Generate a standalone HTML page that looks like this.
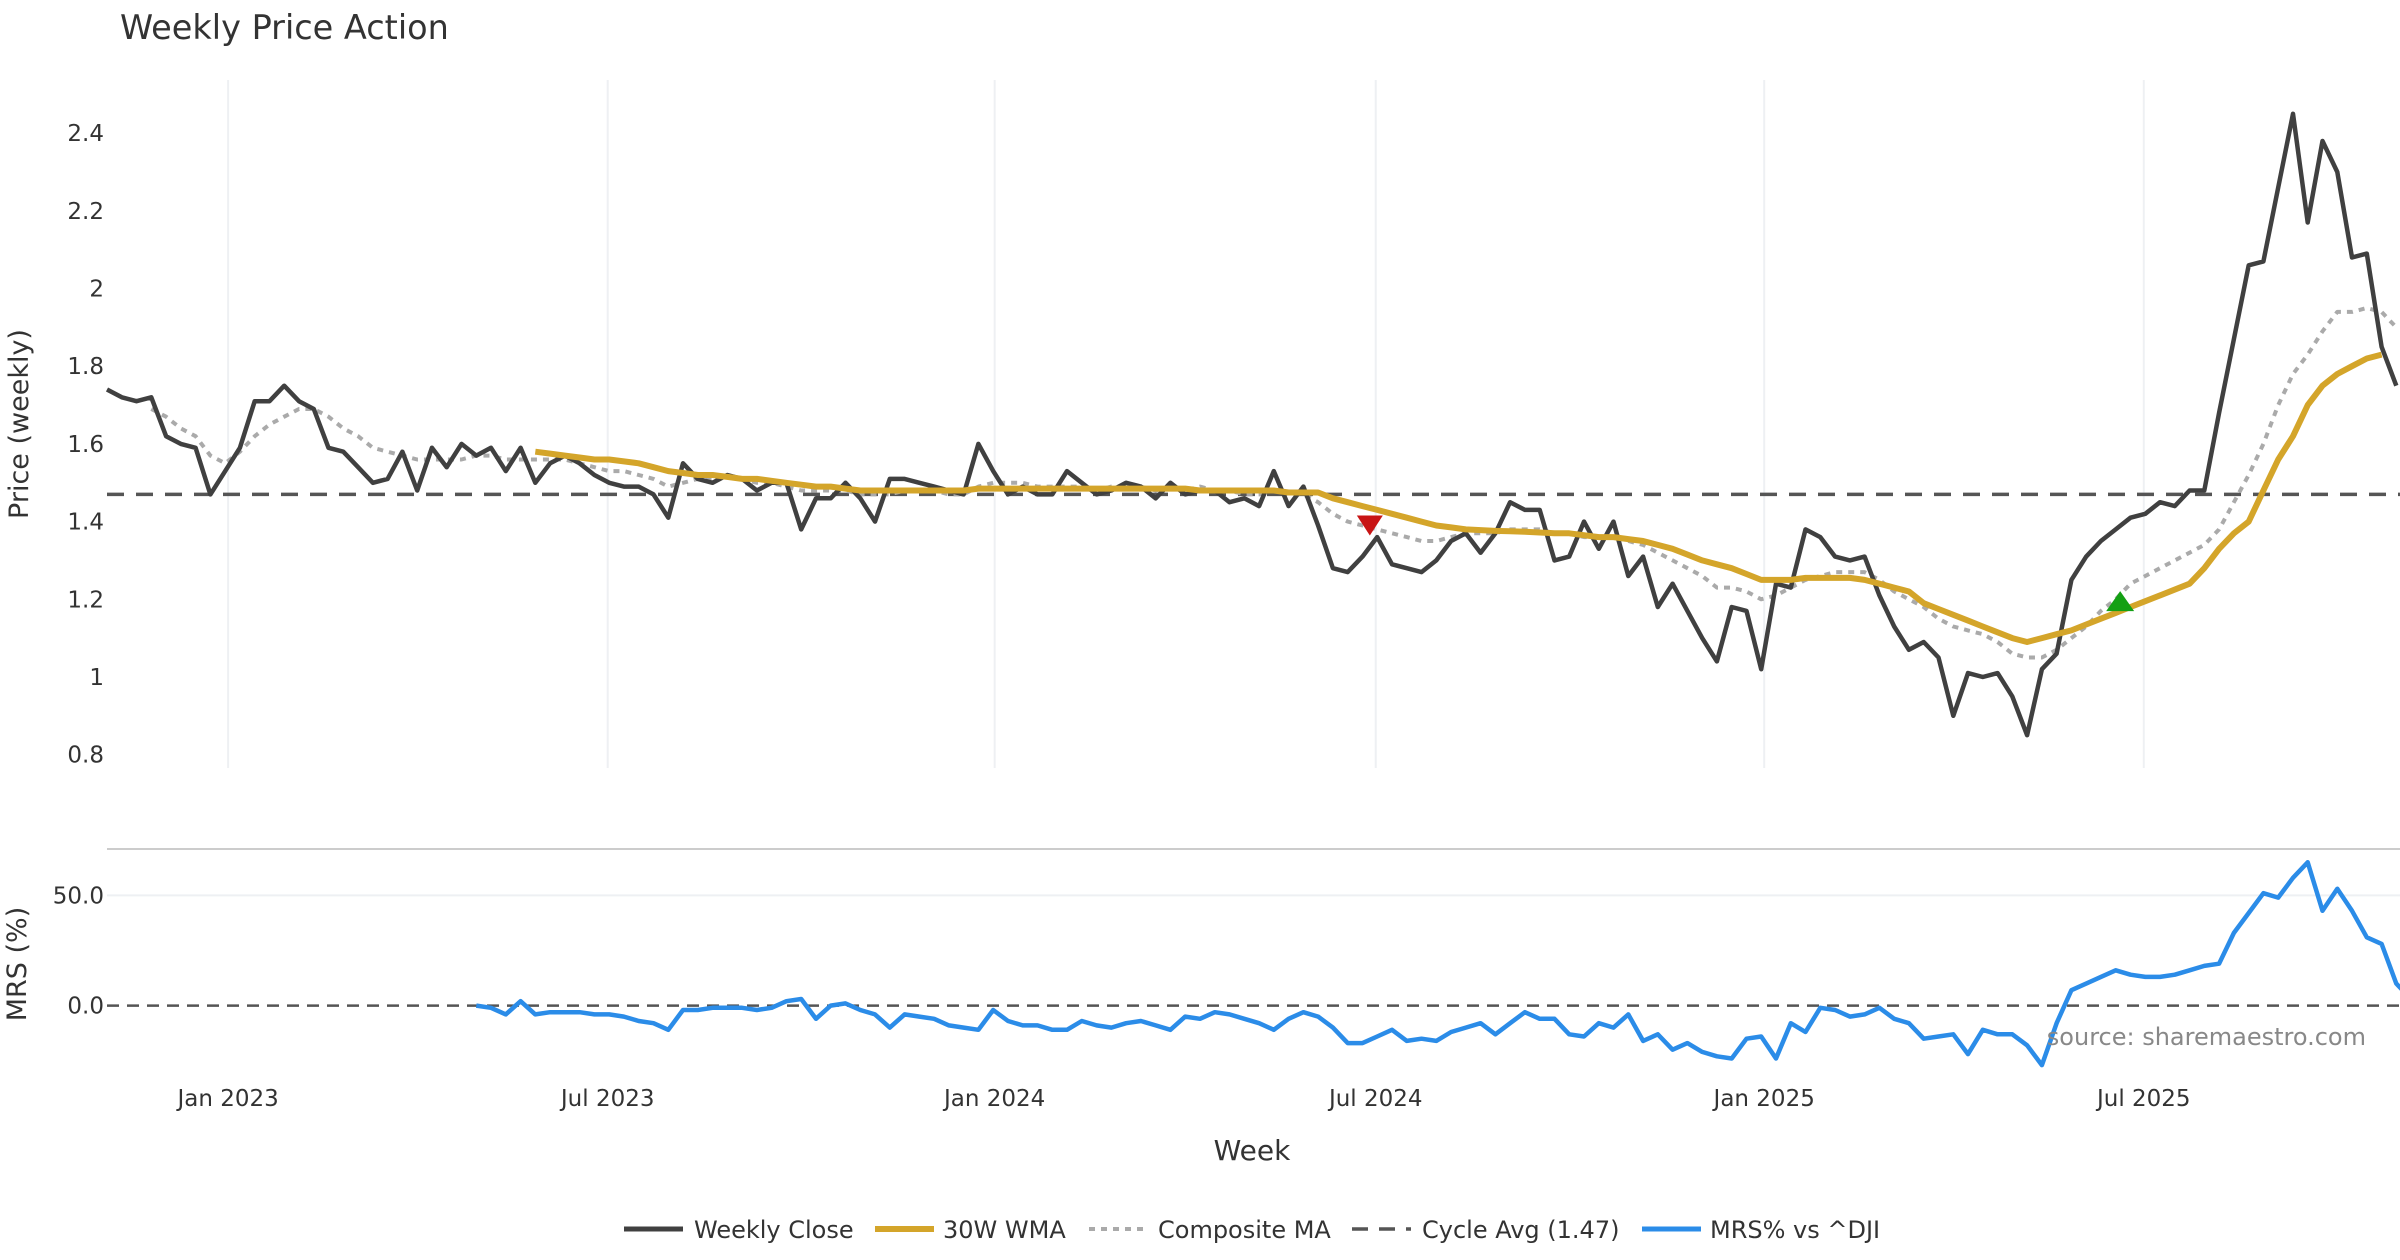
<!DOCTYPE html>
<html><head><meta charset="utf-8"><style>
html,body{margin:0;padding:0;background:#fff;width:2400px;height:1260px;overflow:hidden}
svg{display:block;font-family:"DejaVu Sans","Liberation Sans",sans-serif}
</style></head><body>
<svg id="chart" width="2400" height="1260" viewBox="0 0 2400 1260">
<text x="120" y="39" font-size="33.5" fill="#333">Weekly Price Action</text>
<g id="grid"></g>
<g id="series"></g>
<g id="axes"></g>
<text transform="translate(28,424) rotate(-90)" text-anchor="middle" font-size="27" fill="#333">Price (weekly)</text>
<text transform="translate(26,964) rotate(-90)" text-anchor="middle" font-size="27" fill="#333">MRS (%)</text>
<text x="1252" y="1160" text-anchor="middle" font-size="28" fill="#333">Week</text>
<text x="2366" y="1045" text-anchor="end" font-size="24" fill="#888">source: sharemaestro.com</text>
<g id="legend">
<g><line x1="624" y1="1229" x2="683" y2="1229" stroke="#404040" stroke-width="5"/><text x="694" y="1238" font-size="24" fill="#333">Weekly Close</text></g>
<g><line x1="875" y1="1229" x2="934" y2="1229" stroke="#d4a52a" stroke-width="6"/><text x="943" y="1238" font-size="24" fill="#333">30W WMA</text></g>
<g><line x1="1089" y1="1229" x2="1148" y2="1229" stroke="#aaa" stroke-width="4" stroke-dasharray="6,6"/><text x="1158" y="1238" font-size="24" fill="#333">Composite MA</text></g>
<g><line x1="1352" y1="1229" x2="1411" y2="1229" stroke="#555" stroke-width="3.5" stroke-dasharray="16,11"/><text x="1422" y="1238" font-size="24" fill="#333">Cycle Avg (1.47)</text></g>
<g><line x1="1642" y1="1229" x2="1701" y2="1229" stroke="#2b8ce8" stroke-width="5"/><text x="1710" y="1238" font-size="24" fill="#333">MRS% vs ^DJI</text></g>
</g>
</svg>
<script>
const closeVals=[1.74,1.72,1.71,1.72,1.62,1.60,1.59,1.47,1.53,1.59,1.71,1.71,1.75,1.71,1.69,1.59,1.58,1.54,1.50,1.51,1.58,1.48,1.59,1.54,1.60,1.57,1.59,1.53,1.59,1.50,1.55,1.57,1.55,1.52,1.50,1.49,1.49,1.47,1.41,1.55,1.51,1.50,1.52,1.51,1.48,1.50,1.50,1.38,1.46,1.46,1.50,1.46,1.40,1.51,1.51,1.50,1.49,1.48,1.47,1.60,1.53,1.47,1.49,1.47,1.47,1.53,1.50,1.47,1.48,1.50,1.49,1.46,1.50,1.47,1.48,1.48,1.45,1.46,1.44,1.53,1.44,1.49,1.39,1.28,1.27,1.31,1.36,1.29,1.28,1.27,1.30,1.35,1.37,1.32,1.37,1.45,1.43,1.43,1.30,1.31,1.40,1.33,1.40,1.26,1.31,1.18,1.24,1.17,1.10,1.04,1.18,1.17,1.02,1.24,1.23,1.38,1.36,1.31,1.30,1.31,1.21,1.13,1.07,1.09,1.05,0.90,1.01,1.00,1.01,0.95,0.85,1.02,1.06,1.25,1.31,1.35,1.38,1.41,1.42,1.45,1.44,1.48,1.48,1.68,1.87,2.06,2.07,2.26,2.45,2.17,2.38,2.30,2.08,2.09,1.85,1.75];
const compStart=3;
const compVals=[1.69,1.67,1.64,1.62,1.57,1.55,1.58,1.62,1.65,1.67,1.69,1.69,1.67,1.64,1.62,1.59,1.58,1.57,1.56,1.56,1.56,1.56,1.57,1.57,1.56,1.56,1.56,1.56,1.56,1.55,1.54,1.53,1.53,1.52,1.51,1.49,1.50,1.51,1.51,1.52,1.51,1.50,1.50,1.49,1.48,1.48,1.48,1.48,1.47,1.47,1.47,1.48,1.48,1.48,1.47,1.47,1.49,1.50,1.50,1.50,1.49,1.49,1.49,1.49,1.48,1.49,1.49,1.49,1.48,1.49,1.48,1.49,1.48,1.48,1.47,1.47,1.48,1.47,1.47,1.45,1.42,1.40,1.39,1.38,1.37,1.36,1.35,1.35,1.36,1.37,1.37,1.37,1.38,1.38,1.38,1.37,1.37,1.36,1.36,1.36,1.35,1.34,1.32,1.30,1.28,1.26,1.23,1.23,1.22,1.20,1.21,1.23,1.25,1.26,1.27,1.27,1.27,1.25,1.22,1.20,1.18,1.15,1.13,1.12,1.11,1.09,1.06,1.05,1.05,1.07,1.10,1.13,1.17,1.20,1.24,1.26,1.28,1.30,1.32,1.34,1.38,1.45,1.52,1.60,1.70,1.78,1.83,1.89,1.94,1.94,1.95,1.94,1.90];
const wmaStart=29;
const wmaVals=[1.58,1.575,1.57,1.565,1.56,1.56,1.555,1.55,1.54,1.53,1.525,1.52,1.52,1.515,1.51,1.51,1.505,1.50,1.495,1.49,1.49,1.485,1.48,1.48,1.48,1.48,1.48,1.48,1.48,1.48,1.485,1.485,1.485,1.485,1.485,1.485,1.485,1.485,1.485,1.485,1.485,1.485,1.485,1.485,1.485,1.48,1.48,1.48,1.48,1.48,1.48,1.475,1.475,1.475,1.46,1.45,1.44,1.43,1.42,1.41,1.40,1.39,1.385,1.38,1.378,1.376,1.375,1.374,1.372,1.37,1.37,1.365,1.36,1.36,1.355,1.35,1.34,1.33,1.315,1.30,1.29,1.28,1.265,1.25,1.25,1.25,1.255,1.255,1.255,1.255,1.25,1.24,1.23,1.22,1.19,1.175,1.16,1.145,1.13,1.115,1.10,1.09,1.10,1.11,1.12,1.135,1.15,1.165,1.18,1.195,1.21,1.225,1.24,1.28,1.33,1.37,1.40,1.48,1.56,1.62,1.70,1.75,1.78,1.80,1.82,1.83];
const mrsStart=25;
const mrsVals=[0,-1,-4,2,-4,-3,-3,-3,-4,-4,-5,-7,-8,-11,-2,-2,-1,-1,-1,-2,-1,2,3,-6,0,1,-2,-4,-10,-4,-5,-6,-9,-10,-11,-2,-7,-9,-9,-11,-11,-7,-9,-10,-8,-7,-9,-11,-5,-6,-3,-4,-6,-8,-11,-6,-3,-5,-10,-17,-17,-14,-11,-16,-15,-16,-12,-10,-8,-13,-8,-3,-6,-6,-13,-14,-8,-10,-4,-16,-13,-20,-17,-21,-23,-24,-15,-14,-24,-8,-12,-1,-2,-5,-4,-1,-6,-8,-15,-14,-13,-22,-11,-13,-13,-18,-27,-8,7,10,13,16,14,13,13,14,16,18,19,33,42,51,49,58,65,43,53,43,31,28,10,3];
const priceTicks=[0.8,1,1.2,1.4,1.6,1.8,2,2.2,2.4];
const mrsTicks=[0,50];
const dateLabels=["Jan 2023","Jul 2023","Jan 2024","Jul 2024","Jan 2025","Jul 2025"];
const dateWeekPos=[8.2,33.9,60.1,85.9,112.2,137.9];
const cycleAvg=1.47;
const sellSignal=[85.5,1.39];
const buySignal=[136.3,1.19];

const NS="http://www.w3.org/2000/svg";
const X0=107,XW=14.77;
const xs=i=>X0+i*XW;
const yp=v=>133.2+(2.4-v)*388.4;
const ym=v=>1005.6-v*2.204;
function mk(tag,attrs,parent){const e=document.createElementNS(NS,tag);for(const k in attrs)e.setAttribute(k,attrs[k]);parent.appendChild(e);return e;}
const grid=document.getElementById('grid'),series=document.getElementById('series'),axes=document.getElementById('axes');

dateWeekPos.forEach((w,k)=>{
  const g=mk('line',{x1:xs(w),x2:xs(w),y1:80,y2:768,stroke:'#eef0f3','stroke-width':2},grid);
  
  
  const t=mk('text',{x:xs(w),y:1106,'text-anchor':'middle','font-size':23,fill:'#333'},axes);
  t.textContent=dateLabels[k];
  
  
});
priceTicks.forEach(v=>{
  const t=mk('text',{x:104,y:yp(v)+8,'text-anchor':'end','font-size':23,fill:'#333'},axes);
  t.textContent=String(v);
  
  
});
mrsTicks.forEach(v=>{
  const t=mk('text',{x:104,y:ym(v)+8,'text-anchor':'end','font-size':23,fill:'#333'},axes);
  t.textContent=v.toFixed(1);
  
  
});
const gl=mk('line',{x1:X0,x2:2400,y1:ym(50),y2:ym(50),stroke:'#eef0f3','stroke-width':2},grid);


const sep=mk('line',{x1:X0,x2:2400,y1:849,y2:849,stroke:'#ccc','stroke-width':2},grid);



function path(vals,start,yf,attrs,name){
  const d=vals.map((v,i)=>(i?'L':'M')+xs(start+i).toFixed(1)+','+yf(v).toFixed(1)).join('');
  const p=mk('path',Object.assign({d:d,fill:'none','stroke-linejoin':'round'},attrs),series);
  
  
}
const ca=mk('line',{x1:X0,x2:2400,y1:yp(cycleAvg),y2:yp(cycleAvg),stroke:'#555','stroke-width':3.5,'stroke-dasharray':'17,12'},series);


const z0=mk('line',{x1:X0,x2:2400,y1:ym(0),y2:ym(0),stroke:'#555','stroke-width':2.5,'stroke-dasharray':'12,8'},series);


path(compVals,compStart,yp,{stroke:'#aaa','stroke-width':4,'stroke-dasharray':'6,6'},'composite-ma-line');
path(closeVals,0,yp,{stroke:'#404040','stroke-width':4.5},'weekly-close-line');
path(wmaVals,wmaStart,yp,{stroke:'#d4a52a','stroke-width':6},'wma-30w-line');
path(mrsVals,mrsStart,ym,{stroke:'#2b8ce8','stroke-width':4.5},'mrs-line');

const sx=xs(sellSignal[0]),sy=yp(sellSignal[1]);
const s=mk('polygon',{points:`${sx-13},${sy-10} ${sx+13},${sy-10} ${sx},${sy+10}`,fill:'#c81414'},series);


const bx=xs(buySignal[0]),by=yp(buySignal[1]);
const b=mk('polygon',{points:`${bx-14},${by+8} ${bx+14},${by+8} ${bx},${by-12}`,fill:'#14a014'},series);


</script>
</body></html>
